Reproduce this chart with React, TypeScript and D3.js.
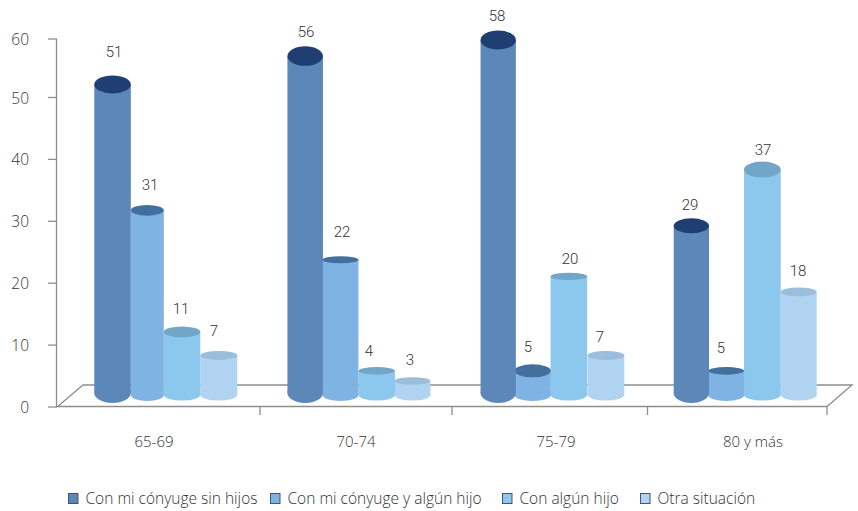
import React from "react";
import * as d3 from "d3";

const categories = ["65-69", "70-74", "75-79", "80 y más"];
const seriesNames = ["Con mi cónyuge sin hijos", "Con mi cónyuge y algún hijo", "Con algún hijo", "Otra situación"];
// printed labels
const labelsA = [51, 56, 58, 29];
const labelsB = [31, 22, 5, 5];
const labelsC = [11, 4, 20, 37];
const labelsD = [7, 3, 7, 18];
// plotted heights, read from the drawn cylinders
const valuesA = [50.8, 55.4, 58, 27.9];
const valuesB = [30.4, 22.4, 4.4, 4.4];
const valuesC = [10.7, 4.4, 19.7, 37];
const valuesD = [6.9, 2.75, 6.9, 17.2];
const yTicks = [0, 10, 20, 30, 40, 50, 60];

const labels = [labelsA, labelsB, labelsC, labelsD];
const values = [valuesA, valuesB, valuesC, valuesD];

const bodyColors = ["#5b87b9", "#7eb3e3", "#8cc8ee", "#afd3f0"];
const capColors = ["#1f3f72", "#426f9e", "#72a6c9", "#9abedb"];
const legendBorder = "#44546a";
const axisColor = "#8e8e8e";
const textColor = "#333333";

// layout tables: [series][group]
const seriesLeft = [
  [0, 0, 0, 0],
  [36.5, 35, 34, 34.5],
  [69.5, 71, 70, 70.3],
  [106, 107, 107, 107],
];
const seriesWidth = [
  [36.5, 35.5, 35.3, 35.3],
  [33, 36, 36.2, 36],
  [36.5, 36.5, 36.6, 36.7],
  [37, 36, 36.7, 36],
];
const bottomCenter = [393, 395, 395, 395];
const bottomRy = [10, 6, 5.5, 5.5];
const capRy = [
  [9, 9.7, 9.5, 7.5],
  [5.3, 3.6, 6.5, 3.8],
  [5.5, 3.8, 3.7, 8],
  [4.5, 3.8, 4.5, 4.3],
];
const labelCenter = [
  [114, 306, 497, 690],
  [150, 342, 528, 721],
  [181, 369, 570, 763],
  [214, 410, 600, 798],
];
const labelMid = [
  [52, 32, 16, 205],
  [185, 232, 347, 348],
  [309, 351, 259, 150],
  [331, 360, 337, 271],
];

const axisY = d3.scaleLinear().domain([0, 50, 60]).range([407, 97.5, 39]);
const barTop = d3.scaleLinear().domain([0, 58]).range([398, 40]);
const groupX = d3.scaleLinear().domain([0, 3]).range([94.3, 673.7]);
const catTicks = [260, 452, 647.5, 827];
const catCenters = [154, 356, 556, 753];
const legendX = [68, 270, 502, 640];

const sans = "'Open Sans', sans-serif";

export default function App() {
  const order = [3, 2, 1, 0];
  return (
    <svg width={858} height={511} style={{ position: "absolute", left: 0, top: 0, background: "#fff" }}>
      <g stroke={axisColor} strokeWidth={1.3} fill="none">
        <path d="M57,407 L83,385 L852,385 L827,406.5 L57,406.5" />
        <line x1={56.5} x2={56.5} y1={axisY(60)} y2={axisY(0)} />
        {yTicks.map((t) => (
          <line key={t} x1={48} x2={57} y1={axisY(t)} y2={axisY(t)} />
        ))}
        {catTicks.map((x) => (
          <line key={x} x1={x} x2={x} y1={406.5} y2={415} />
        ))}
      </g>
      {yTicks.map((t) => (
        <text key={t} x={29} y={axisY(t) + 6} textAnchor="end" fontFamily={sans} fontWeight={300} fontSize={15.5} fill={textColor}>
          {t}
        </text>
      ))}
      {categories.map((c, g) => (
        <text key={c} x={catCenters[g]} y={447} textAnchor="middle" fontFamily={sans} fontWeight={300} fontSize={15} fill={textColor}>
          {c}
        </text>
      ))}
      {categories.map((c, g) => (
        <g key={c}>
          {order.map((s) => {
            const x = groupX(g) + seriesLeft[s][g];
            const w = seriesWidth[s][g];
            const top = barTop(values[s][g]);
            const bot = bottomCenter[s];
            return (
              <g key={s}>
                <ellipse cx={x + w / 2} cy={bot} rx={w / 2} ry={bottomRy[s]} fill={bodyColors[s]} />
                <rect x={x} y={top} width={w} height={bot - top} fill={bodyColors[s]} />
                <ellipse cx={x + w / 2} cy={top} rx={w / 2} ry={capRy[s][g]} fill={capColors[s]} />
              </g>
            );
          })}
        </g>
      ))}
      {categories.map((c, g) =>
        order.map((s) => (
          <text
            key={c + s}
            x={labelCenter[s][g]}
            y={labelMid[s][g] + 5}
            textAnchor="middle"
            fontFamily="Roboto, sans-serif"
            fontWeight={300}
            fontSize={15}
            fill={textColor}
          >
            {labels[s][g]}
          </text>
        ))
      )}
      {seriesNames.map((n, s) => (
        <g key={n}>
          <rect x={legendX[s] + 0.5} y={493.5} width={9.5} height={10} fill={bodyColors[s]} stroke={legendBorder} strokeWidth={1} />
          <text x={legendX[s] + 17.5} y={503.5} fontFamily={sans} fontWeight={300} fontSize={15.5} fill={textColor}>
            {n}
          </text>
        </g>
      ))}
    </svg>
  );
}
